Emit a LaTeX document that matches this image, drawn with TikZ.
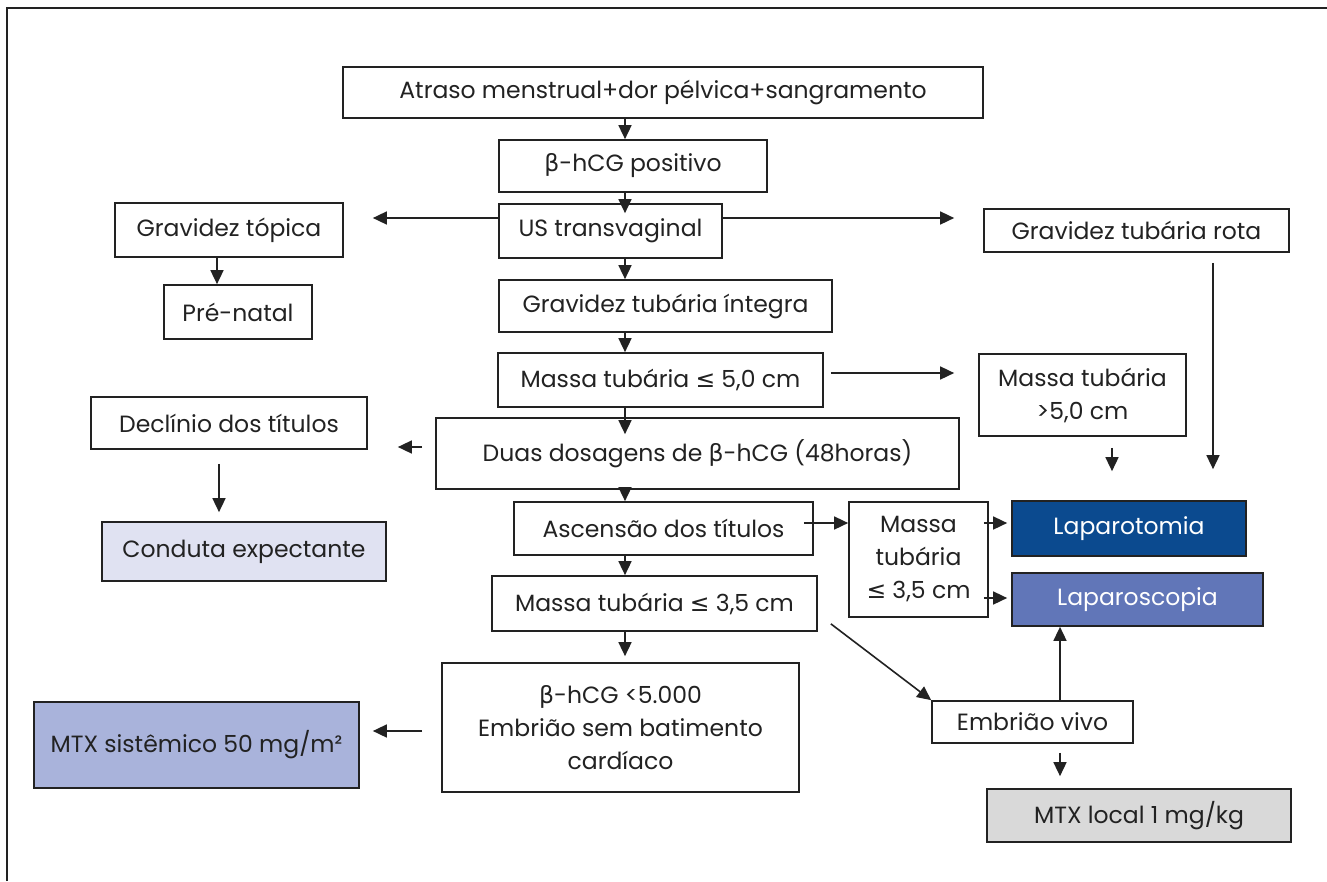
\documentclass[tikz,border=0pt]{standalone}
\usepackage{fontspec}
\setmainfont{Poppins}
\newfontfamily\symfont{DejaVu Sans}
\usetikzlibrary{arrows.meta,calc}
\newcommand{\bet}{{\symfont β}}
\newcommand{\leqs}{{\symfont ≤}}
\definecolor{laptcol}{HTML}{0B4A8F}
\definecolor{lapccol}{HTML}{6176B8}
\definecolor{mtxscol}{HTML}{A9B3DB}
\definecolor{condcol}{HTML}{E0E2F2}
\definecolor{mtxlcol}{HTML}{D9D9D9}
\definecolor{ink}{HTML}{222222}
\begin{document}
\begin{tikzpicture}[x=1pt,y=-1pt,
  box/.style={draw=ink, line width=1.7pt, inner sep=0pt, font=\fontsize{23.5}{33}\selectfont, text=ink, align=center},
  arr/.style={draw=ink, line width=1.6pt, -{Triangle[length=14pt,width=13pt]}}]
\useasboundingbox (0,0) rectangle (1327,881);
\fill[white] (0,0) rectangle (1327,881);
% frame
\draw[ink, line width=2.5pt] (7,881) -- (7,8) -- (1327,8);
% axis coordinates
\coordinate (cx) at (625,0);
\coordinate (y218) at (0,218);
\coordinate (y373) at (0,373);
\coordinate (y447) at (0,447);
\coordinate (y523) at (0,523);
\coordinate (y598) at (0,598);
\coordinate (y731) at (0,731);
\coordinate (x217) at (217,0);
\coordinate (x219) at (219,0);
\coordinate (x1112) at (1112,0);
\coordinate (x1213) at (1213,0);
\coordinate (x1060) at (1060,0);
% nodes
\node[box, minimum width=640pt, minimum height=51pt] (atraso) at (663,92.5) {Atraso menstrual+dor pélvica+sangramento};
\node[box, minimum width=268pt, minimum height=52pt] (bpos) at (633,166) {\bet-hCG positivo};
\node[box, minimum width=223pt, minimum height=54pt] (us) at (610.5,231) {US transvaginal};
\node[box, minimum width=228pt, minimum height=54pt] (gtop) at (229,230) {Gravidez tópica};
\node[box, minimum width=148pt, minimum height=54pt] (pren) at (238,312) {Pré-natal};
\node[box, minimum width=305pt, minimum height=43pt] (grota) at (1136.5,230.5) {Gravidez tubária rota};
\node[box, minimum width=333pt, minimum height=52pt] (ginteg) at (665.5,306) {Gravidez tubária íntegra};
\node[box, minimum width=325pt, minimum height=54pt] (m50) at (660.5,380) {Massa tubária \leqs\ 5,0 cm};
\node[box, minimum width=207pt, minimum height=82pt] (m50g) at (1082.5,395) {Massa tubária\\>5,0 cm};
\node[box, minimum width=276pt, minimum height=52pt] (decl) at (229,423) {Declínio dos títulos};
\node[box, minimum width=523pt, minimum height=71pt] (duas) at (697.5,453.5) {Duas dosagens de \bet-hCG (48horas)};
\node[box, minimum width=299pt, minimum height=53pt] (asc) at (663.5,528.5) {Ascensão dos títulos};
\node[box, minimum width=139pt, minimum height=115pt] (m35b) at (918.5,559.5) {Massa\\tubária\\\leqs\ 3,5 cm};
\node[box, fill=laptcol, text=white, minimum width=234pt, minimum height=55pt] (lapt) at (1129,528.5) {Laparotomia};
\node[box, fill=lapccol, text=white, minimum width=251pt, minimum height=53pt] (lapc) at (1137.5,599.5) {Laparoscopia};
\node[box, fill=condcol, minimum width=284pt, minimum height=59pt] (cond) at (244,551.5) {Conduta expectante};
\node[box, minimum width=325pt, minimum height=55pt] (m35) at (654.5,603.5) {Massa tubária \leqs\ 3,5 cm};
\node[box, minimum width=357pt, minimum height=129pt] (bh5) at (620.5,727.5) {\bet-hCG <5.000\\Embrião sem batimento\\cardíaco};
\node[box, fill=mtxscol, minimum width=325pt, minimum height=86pt] (mtxs) at (196.5,745) {MTX sistêmico 50 mg/m²};
\node[box, minimum width=201pt, minimum height=42pt] (emb) at (1032.5,722) {Embrião vivo};
\node[box, fill=mtxlcol, minimum width=304pt, minimum height=53pt] (mtxl) at (1139,815.5) {MTX local 1 mg/kg};
% connectors
\draw[arr] (atraso.south -| cx) -- (bpos.north -| cx);
\draw[arr, shorten >=-10pt] (bpos.south -| cx) -- (us.north -| cx);
\draw[arr, shorten >=29pt] (us.west |- y218) -- (gtop.east |- y218);
\draw[arr, shorten >=29pt] (us.east |- y218) -- (grota.west |- y218);
\draw[arr] (gtop.south -| x217) -- (pren.north -| x217);
\draw[arr] (us.south -| cx) -- (ginteg.north -| cx);
\draw[arr] (ginteg.south -| cx) -- (m50.north -| cx);
\draw[arr, shorten <=7pt, shorten >=24pt] (m50.east |- y373) -- (m50g.west |- y373);
\draw[arr, shorten >=-17pt] (m50.south -| cx) -- (duas.north -| cx);
\draw[arr, shorten <=13pt, shorten >=30pt] (duas.west |- y447) -- (decl.east |- y447);
\draw[arr, shorten <=14pt, shorten >=9pt] (decl.south -| x219) -- (cond.north -| x219);
\draw[arr] (duas.south -| cx) -- (asc.north -| cx);
\draw[arr, shorten <=-10pt] (asc.east |- y523) -- (m35b.west |- y523);
\draw[arr, shorten <=-5pt, shorten >=4pt] (m35b.east |- y523) -- (lapt.west |- y523);
\draw[arr, shorten <=-5pt, shorten >=4pt] (m35b.east |- y598) -- (lapc.west |- y598);
\draw[arr, shorten <=11pt, shorten >=29pt] (m50g.south -| x1112) -- (lapt.north -| x1112);
\draw[arr, shorten <=10pt, shorten >=31pt] (grota.south -| x1213) -- (lapt.north -| x1213);
\draw[arr] (asc.south -| cx) -- (m35.north -| cx);
\draw[arr, shorten >=6pt] (m35.south -| cx) -- (bh5.north -| cx);
\draw[arr] ($(m35.south east)+(13,-8)$) -- (emb.north west);
\draw[arr, shorten <=19pt, shorten >=13pt] (bh5.west |- y731) -- (mtxs.east |- y731);
\draw[arr] (emb.north -| x1060) -- (lapc.south -| x1060);
\draw[arr, shorten <=9pt, shorten >=12pt] (emb.south -| x1060) -- (mtxl.north -| x1060);
\end{tikzpicture}
\end{document}
